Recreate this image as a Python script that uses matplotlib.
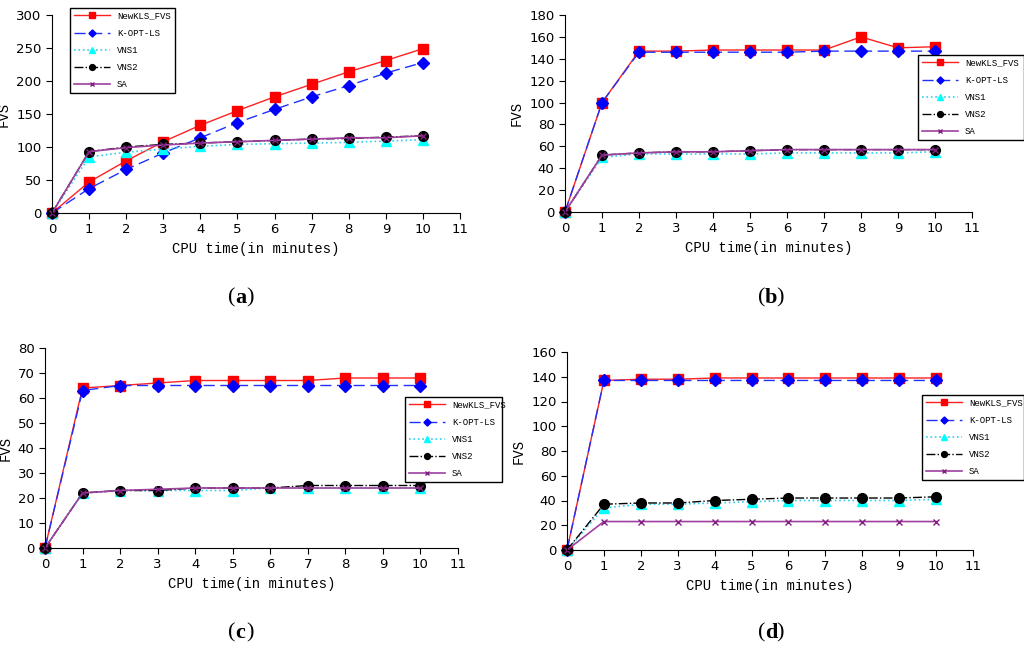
import matplotlib
matplotlib.use("Agg")
import matplotlib.pyplot as plt

x = list(range(11))
names = ["NewKLS_FVS", "K-OPT-LS", "VNS1", "VNS2", "SA"]
a_new = [0,47,79,108,133,155,176,195,214,231,249]
a_k = [0,37,66,91,114,137,157,176,193,212,228]
a_v1 = [0,85,92,97,101,104,105,106,107,109,111]
a_v2 = [0,93,100,104,106,108,110,112,113,115,117]
a_sa = [0,93,99,103,106,108,110,112,114,114,117]
b_new = [0,100,147,147,148,148,148,148,160,150,151]
b_k = [0,100,146,146,146,146,146,147,147,147,147]
b_v1 = [0,50,53,53,53,53,54,54,54,54,55]
b_v2 = [0,52,54,55,55,56,57,57,57,57,57]
b_sa = [0,52,54,55,55,56,57,57,57,57,57]
c_new = [0,64,65,66,67,67,67,67,68,68,68]
c_k = [0,63,65,65,65,65,65,65,65,65,65]
c_v1 = [0,22,23,23,23,23,24,24,24,24,24]
c_v2 = [0,22,23,23,24,24,24,25,25,25,25]
c_sa = [0,22,23,23.5,24,24,24,24,24,24,24]
d_new = [0,137,138,138,139,139,139,139,139,139,139]
d_k = [0,137,137,137,137,137,137,137,137,137,137]
d_v1 = [0,34,37,37,38,39,40,40,40,40,41]
d_v2 = [0,37,38,38,40,41,42,42,42,42,43]
d_sa = [0,23,23,23,23,23,23,23,23,23,23]

styles = [
    dict(color="#ff2020", ls="-", marker="s", ms=7, mfc="red", mec="red", lw=1),
    dict(color="#2030ff", ls=(0,(8,4)), marker="D", ms=6, mfc="blue", mec="blue", lw=1),
    dict(color="#30d0f0", ls=":", marker="^", ms=7, mfc="cyan", mec="cyan", lw=1.2),
    dict(color="black", ls="-.", marker="o", ms=7, mfc="black", mec="black", lw=1),
    dict(color="#a040a0", ls="-", marker="x", ms=4, mec="#802080", lw=1.2),
]

W, H = 1024, 647
fig = plt.figure(figsize=(W/100, H/100), dpi=100)
mono = "Liberation Mono"

panels = [
    ([a_new,a_k,a_v1,a_v2,a_sa], (52,15,460,213), 300, 50, (70,8,175,92), "a", (235,298)),
    ([b_new,b_k,b_v1,b_v2,b_sa], (565,15,972,212), 180, 20, (918,55,1024,167), "b", (765,298)),
    ([c_new,c_k,c_v1,c_v2,c_sa], (45,348,458,548), 80, 10, (405,397,502,475), "c", (235,633)),
    ([d_new,d_k,d_v1,d_v2,d_sa], (567,352,973,550), 160, 20, (922,395,1024,480), "d", (765,633)),
]
for series, (x0,y0,x1,y1), ymax, ystep, (lx0,ly0,lx1,ly1), lab, (px,py) in panels:
    ax = fig.add_axes([x0/W, 1-y1/H, (x1-x0)/W, (y1-y0)/H])
    hs = []
    for s, n, st in zip(series, names, styles):
        h, = ax.plot(x, s, label=n, clip_on=False, **st)
        hs.append(h)
    ax.set_xlim(0, 11)
    ax.set_ylim(0, ymax)
    ax.set_xticks(range(12))
    ax.set_yticks(range(0, ymax+1, ystep))
    ax.spines["top"].set_visible(False)
    ax.spines["right"].set_visible(False)
    ax.tick_params(direction="out", labelsize=9.5, length=4)
    ax.set_xlabel("CPU time(in minutes)", fontfamily=mono, fontsize=10, labelpad=4)
    ax.set_ylabel("FVS", fontfamily=mono, fontsize=10)
    leg = fig.legend(handles=hs, loc="upper left",
                     bbox_to_anchor=(lx0/W, 1-ly1/H, (lx1-lx0)/W, (ly1-ly0)/H),
                     mode="expand", prop=dict(family=mono, size=6.5),
                     frameon=True, fancybox=False, edgecolor="black", framealpha=1,
                     handlelength=4, borderaxespad=0, labelspacing=0.9, markerscale=0.6)
    leg.get_frame().set_linewidth(1)
    leg.set_zorder(10)
    fig.text(px/W, 1-py/H, "(", fontfamily="Liberation Serif", fontsize=16, ha="right", va="center")
    fig.text(px/W, 1-py/H, lab, fontfamily="Liberation Serif", fontsize=16, fontweight="bold", ha="left", va="center")
    fig.text(px/W + 0.011, 1-py/H, ")", fontfamily="Liberation Serif", fontsize=16, ha="left", va="center")

fig.savefig("out.png", dpi=100)
